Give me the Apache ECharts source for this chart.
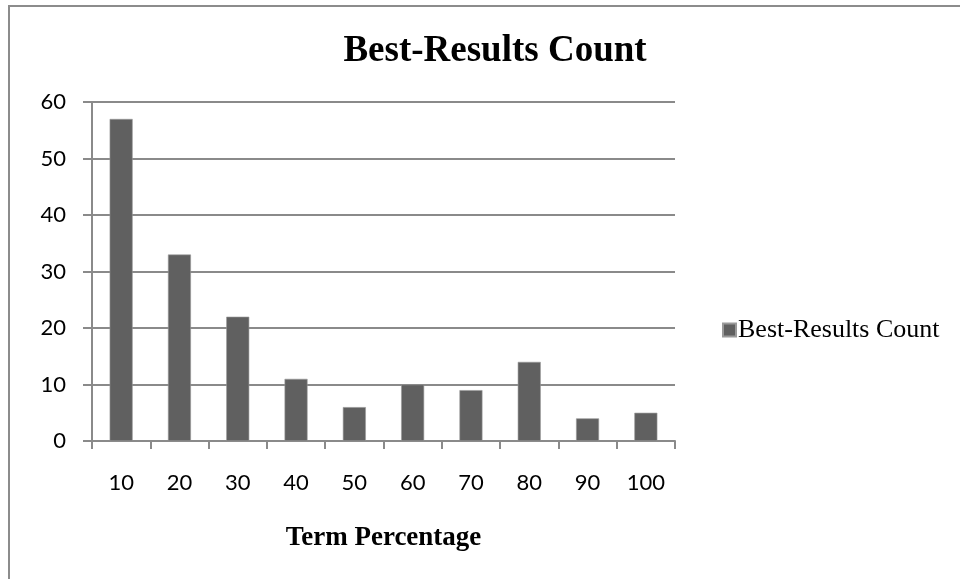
<!DOCTYPE html>
<html>
<head>
<meta charset="utf-8">
<script src="https://cdn.jsdelivr.net/npm/echarts@6/dist/echarts.min.js"></script>
<style>
  html, body { margin: 0; padding: 0; background: #ffffff; }
  #chart { width: 960px; height: 579px; }
</style>
</head>
<body>
<div id="chart"></div>
<script>
// Term percentage buckets along the x axis
const termPercentages = ['10', '20', '30', '40', '50', '60', '70', '80', '90', '100'];
// Number of best results in each bucket
const bestResultsCount = [57, 33, 22, 11, 6, 10, 9, 14, 4, 5];
// Value axis range
const yMin = 0;
const yMax = 60;
const yStep = 10;

const chart = echarts.init(document.getElementById('chart'), null, { renderer: 'canvas' });

const serifFont = '"Liberation Serif", "Times New Roman", serif';
const labelFont = 'Lato, "Open Sans", sans-serif';
const gridColor = '#8a8a8a';

chart.setOption({
  animation: false,
  backgroundColor: '#ffffff',
  graphic: [{
    type: 'rect',
    shape: { x: 9, y: 6, width: 1000, height: 1000 },
    style: { fill: 'none', stroke: '#8c8c8c', lineWidth: 2 },
    silent: true
  }],
  title: {
    text: 'Best-Results Count',
    left: 490,
    top: 28,
    textAlign: 'center',
    textStyle: {
      fontFamily: serifFont,
      fontWeight: 'bold',
      fontSize: 37,
      color: '#000000'
    }
  },
  legend: {
    data: ['Best-Results Count'],
    orient: 'vertical',
    left: 717,
    top: 312,
    itemWidth: 13,
    itemHeight: 13,
    itemGap: 4,
    icon: 'rect',
    textStyle: {
      fontFamily: serifFont,
      fontSize: 26,
      color: '#000000',
      padding: [0, 0, 0, -3]
    }
  },
  grid: {
    left: 92,
    right: 285,
    top: 102,
    bottom: 138,
    containLabel: false
  },
  xAxis: {
    type: 'category',
    data: termPercentages,
    name: 'Term Percentage',
    nameLocation: 'middle',
    nameGap: 84,
    nameTextStyle: {
      fontFamily: serifFont,
      fontWeight: 'bold',
      fontSize: 27,
      color: '#000000'
    },
    axisLine: { show: true, lineStyle: { color: gridColor, width: 2 } },
    axisTick: { show: true, length: 8, alignWithLabel: false, lineStyle: { color: gridColor, width: 2 } },
    axisLabel: {
      margin: 31,
      fontFamily: labelFont,
      fontSize: 22,
      color: '#000000'
    },
    splitLine: { show: false }
  },
  yAxis: {
    type: 'value',
    min: yMin,
    max: yMax,
    interval: yStep,
    axisLine: { show: true, lineStyle: { color: gridColor, width: 2 } },
    axisTick: { show: true, length: 9, inside: false, lineStyle: { color: gridColor, width: 2 } },
    axisLabel: {
      margin: 26,
      fontFamily: labelFont,
      fontSize: 22,
      color: '#000000'
    },
    splitLine: { show: true, lineStyle: { color: gridColor, width: 2 } }
  },
  series: [{
    name: 'Best-Results Count',
    type: 'bar',
    data: bestResultsCount,
    barWidth: 23,
    itemStyle: {
      color: '#606060',
      borderColor: '#9a9a9a',
      borderWidth: 0.6
    }
  }]
});
</script>
</body>
</html>
